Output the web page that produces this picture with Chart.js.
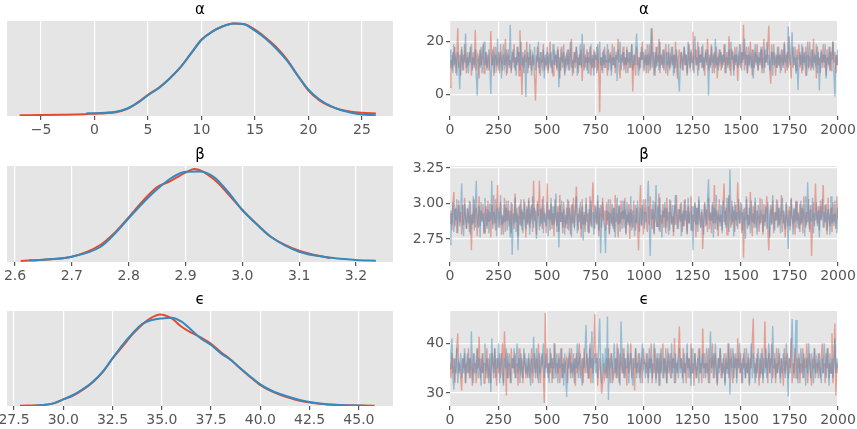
<!DOCTYPE html>
<html>
<head>
<meta charset="utf-8">
<script src="https://cdn.jsdelivr.net/npm/chart.js@4/dist/chart.umd.min.js"></script>
<style>
  body { margin: 0; background: #ffffff; }
  canvas { position: absolute; }
</style>
</head>
<body>
<canvas id="alphaKde" width="405" height="140" style="left:0;top:0"></canvas>
<canvas id="alphaTrace" width="452" height="140" style="left:405px;top:0"></canvas>
<canvas id="betaKde" width="405" height="150" style="left:0;top:140px"></canvas>
<canvas id="betaTrace" width="452" height="150" style="left:405px;top:140px"></canvas>
<canvas id="epsKde" width="405" height="139" style="left:0;top:290px"></canvas>
<canvas id="epsTrace" width="452" height="139" style="left:405px;top:290px"></canvas>
<script>
// posterior density, chain 0 (red) and chain 1 (blue)
const alphaKdeXRed = [-7, -5, -3, -1, 0, 1, 2, 3, 4, 5, 6, 7, 8, 9, 10, 11, 12, 13, 14, 15, 16, 17, 18, 19, 20, 21, 22, 23, 24, 25, 26.3];
const alphaKdeRed = [0.5, 0.7, 1, 1.5, 2, 2.5, 3.5, 6.5, 13, 21, 28, 37, 48, 62, 76, 84, 89.5, 92.3, 91.5, 86, 78, 68.5, 56, 40, 25, 15.5, 9.5, 6, 4, 3, 2.3];
const alphaKdeXBlue = [-0.8, 0, 1, 2, 3, 4, 5, 6, 7, 8, 9, 10, 11, 12, 13, 14, 15, 16, 17, 18, 19, 20, 21, 22, 23, 24, 25, 26.3];
const alphaKdeBlue = [2.3, 2.5, 3, 4, 7, 12.5, 20.5, 27.5, 37, 48, 62, 76, 84, 89.5, 92.3, 91.5, 85, 77, 67, 55, 40, 26, 16.5, 10, 5.7, 3, 1.3, 0.3];

const betaKdeXRed = [2.61, 2.65, 2.70, 2.75, 2.775, 2.80, 2.825, 2.85, 2.87, 2.90, 2.915, 2.95, 2.975, 3.00, 3.025, 3.05, 3.10, 3.155];
const betaKdeRed = [0, 1.3, 4.3, 16, 28, 43.7, 60, 74, 79, 88.3, 92, 81.7, 67, 51, 37, 24.3, 10.3, 2.7];
const betaKdeXBlue = [2.625, 2.65, 2.70, 2.75, 2.775, 2.80, 2.825, 2.85, 2.875, 2.90, 2.925, 2.95, 2.975, 3.00, 3.025, 3.05, 3.10, 3.15, 3.20, 3.235];
const betaKdeBlue = [0.7, 1.3, 4.3, 14, 27, 42.7, 58, 71.7, 83, 89.3, 89.5, 84, 69, 51, 37, 24.3, 9.3, 3.7, 1, 0.3];

const epsKdeXRed = [27.8, 29, 29.5, 30, 30.5, 31, 31.5, 32, 32.5, 33, 33.5, 34, 34.5, 34.9, 35.5, 36, 36.5, 37, 37.5, 38, 38.5, 39, 39.5, 40, 40.5, 41, 42, 43, 44, 45.8];
const epsKdeRed = [0, 0.7, 2.3, 6.3, 10, 16, 23.5, 33.5, 47.3, 59, 71, 81, 88.3, 91.3, 87.3, 79, 73, 68, 62, 53.5, 46, 37, 28.5, 20.5, 15, 11, 5, 2, 0.7, 0];
const epsKdeXBlue = [28.5, 29, 29.5, 30, 30.5, 31, 31.5, 32, 32.5, 33, 33.5, 34, 34.5, 35, 35.5, 36, 36.5, 37, 37.5, 38, 38.5, 39, 39.5, 40, 40.5, 41, 42, 42.5, 43, 44, 45.3];
const epsKdeBlue = [0, 0.7, 2.3, 6.3, 10.7, 16.7, 24, 34, 47.3, 60.7, 72, 81.7, 85.7, 87.3, 88, 84, 75.7, 67, 60.7, 52.3, 45.7, 37.3, 29, 21.3, 15.7, 11.7, 5.7, 3.7, 2.3, 0.7, 0];

// sampled traces, 400 values per chain spread over the 2000 draws
const alphaTraceRed = [
  2.6, 13, 9, 16, 11, 18, 8, 14, 25, 10, 15, 7, 17, 12, 9, 19, 13, 8, 16, 11,
  14, 18, 7, 12, 16, 10, 24.4, 9, 15, 13, 6, 17, 11, 14, 19, 8, 12, 16, 10, 15,
  9, 13, 24, 11, 17, 7, 14, 18, 10, 12, 16, 8, 19, 13, 9, 15, 11, 21, 7, 14,
  17, 10, 13, 8, 16, 12, 19, 9, 14, 11, 18, 7, 24.4, 13, -0.3, 16, 10, 15, 12, 20,
  8, 14, 11, 17, 9, 15, 13, 6, -2.4, 12, 18, 10, 14, 7, 16, 12, 19, 9, 13, 11,
  16, 8, 14, 20, 10, 13, 7, 17, 11, 15, 9, 18, 12, 6, 16, 14, 10, 19, 8, 13,
  15, 11, 17, 9, 13, 21, 7, 12, 16, 10, 18, 14, 8, 15, 11, 17, 5, 13, 19, 10,
  14, 9, 16, 12, 18, 7, 13, 11, 17, 10, 15, 8, 19, 12, -6.9, 14, 9, 16, 11, 18,
  10, 13, 7, 17, 12, 15, 9, 19, 11, 14, 8, 16, 13, 21, 10, 6, 15, 12, 18, 9,
  14, 11, 17, 8, 13, 16, 10, 19, 1, 12, 15, 7, 18, 11, 14, 9, 16, 13, 20, 10,
  12, 17, 8, 15, 11, 19, 9, 14, 25, 13, 7, 16, 10, 18, 12, 21, 8, 15, 11, 17,
  9, 14, 19, 12, 7, 16, 10, 13, 18, 11, 15, 8, 20, 12, 6, 14, 17, 10, 16, 13,
  9, 18, 11, 15, 7, 13, 19, 10, 16, 12, 23.7, 8, 14, 17, 11, 20, 9, 15, 12, 18,
  10, 14, 7, 17, 12, 21, 9, 15, 11, 19, 8, 13, 16, 10, 18, 6, 14, 12, 17, 9,
  15, 11, 19, 8, 13, 16, 10, 22, 12, 7, 17, 14, 9, 18, 11, 15, 5, 13, 19, 10,
  16, 12, 26.4, 9, 14, 18, 8, 15, 11, 20, 13, 7, 17, 10, 16, 12, 19, 9, 14, 11,
  17, 8, 13, 21, 10, 15, 12, 18, 26, 9, 4, 16, 11, 19, 13, 7, 15, 10, 18, 12,
  14, 9, 17, 11, 20, 8, 13, 16, 10, 22, 12, 6, 15, 18, 11, 14, 9, 17, 13, 19,
  10, 15, 8, 18, 12, 16, 7, 14, 20, 11, 13, 9, 17, 10, 21, 12, 15, 6, 18, 11,
  14, 8, 16, 12, 19, 10, 15, 7, 17, 13, 11, 18, 9, 14, 20, 12, 16, 8, 15, 11
];
const alphaTraceBlue = [
  17, 10, 15, 8, 19, 12, 14, 7, 16, 11, 1.9, 13, 18, 9, 15, 12, 23, 10, 14, 8,
  16, 12, 19, 9, 14, 11, 17, 7, -0.5, 13, 15, 10, 18, 8, 14, 20, 11, 16, 9, 13,
  17, 10, 0.1, 14, 12, 18, 8, 15, 11, 21, 9, 13, 16, 6, 14, 19, 10, 12, 17, 8,
  15, 11, 26.4, 9, 13, 17, 10, 14, 7, 18, 12, 16, 9, 20, 11, 14, 8, 17, -1.1, 13,
  16, 10, 19, 12, 7, 15, 11, 18, 9, 14, 13, 20, 8, 16, 12, 10, 17, 6, 15, 11,
  18, 9, 14, 12, 16, 8, 19, 11, 13, 15, 10, 17, 2.6, 14, 9, 18, 12, 16, 7, 13,
  11, 17, 9, 15, 20, 10, 13, 8, 16, 12, 18, 7, 14, 11, 19, 10, 22.9, 13, 9, 15,
  12, 17, 8, 14, 11, 19, 10, 15, 7, 16, 13, 18, 9, 12, 20, 11, 14, 8, 17, 10,
  15, 12, 19, 9, 13, 16, 7, 14, 11, 18, 10, 15, 5, 17, 12, 20, 9, 13, 16, 11,
  14, 8, 18, 12, 16, 10, 13, 19, 9, 15, 11, 17, 23, 12, 7, 14, 10, 18, 13, 16,
  9, 15, 11, 19, 8, 14, 12, 25, 10, 16, 13, 7, 18, 11, 15, 9, 20, 12, 14, 10,
  17, 13, 8, 16, 11, 19, 9, 14, 12, 18, 7, 15, 10, 17, 13, 6, 1, 12, 16, 9,
  14, 18, 11, 15, 8, 20, 12, 10, 17, 13, 9, 16, 22, 11, 14, 7, 18, 12, 15, 10,
  19, 9, 13, 16, 11, 17, -0.5, 14, 10, 18, 12, 15, 8, 21, 11, 14, 9, 17, 13, 16,
  10, 15, 12, 19, 8, 14, 11, 17, 9, 20, 13, 16, 7, 15, 12, 18, 10, 14, 11, 19,
  9, 16, 13, 21, 11, 15, 8, 18, 12, 14, 10, 17, 6, 13, 19, 11, 15, 9, 16, 12,
  18, 10, 14, 8, 17, 12, 20, 11, 15, 9, 13, 19, 7, 16, 12, 14, 10, 18, 11, 15,
  8, 17, 13, 10, 19, 12, 15, 9, 25.7, 14, 11, 16, 23.5, 10, 13, 18, 8, 15, 1.6, 12,
  16, 11, 19, 9, 14, 12, 18, 7, 15, 10, 20, 13, 11, 17, 9, 14, 12, 19, 8, 16,
  1.4, 13, 17, 10, 15, 12, 19, 6, 14, 11, 18, 9, 16, 13, 20, 8, -0.9, 15, 11, 17
];
const betaTraceRed = [
  2.86, 2.95, 2.81, 3.00, 3.08, 2.84, 2.97, 2.79, 2.92, 3.02, 2.87, 2.94, 2.78, 2.99, 2.85, 3.04, 2.89, 2.82, 2.96, 2.91,
  2.80, 3.01, 2.67, 2.93, 2.86, 3.03, 2.83, 2.97, 2.77, 2.90, 3.05, 2.84, 2.95, 2.88, 3.00, 2.79, 2.92, 2.98, 2.82, 3.02,
  2.87, 2.94, 2.76, 2.99, 2.85, 3.06, 2.89, 2.81, 2.96, 3.13, 2.83, 2.93, 3.01, 2.78, 2.91, 2.86, 3.04, 2.80, 2.97, 2.88,
  3.02, 2.84, 2.95, 2.79, 3.00, 2.90, 2.82, 3.07, 2.87, 2.93, 2.77, 2.98, 2.85, 3.03, 2.81, 2.94, 2.89, 3.01, 2.76, 2.96,
  2.86, 3.04, 2.83, 2.92, 2.99, 2.80, 3.16, 2.88, 2.95, 2.78, 3.02, 2.91, 3.16, 2.84, 2.97, 2.82, 3.05, 2.87, 2.93, 2.79,
  3.14, 2.89, 2.96, 2.81, 3.00, 2.85, 2.93, 2.77, 3.03, 2.90, 2.84, 2.98, 2.80, 3.06, 2.87, 2.94, 2.79, 3.01, 2.88, 2.83,
  2.97, 2.82, 3.02, 2.91, 2.78, 2.99, 2.86, 3.04, 2.83, 2.95, 3.12, 2.88, 2.81, 2.97, 2.92, 2.76, 3.03, 2.85, 2.94, 2.80,
  3.00, 2.87, 2.93, 2.79, 3.05, 2.84, 2.96, 3.15, 2.89, 2.82, 2.98, 2.86, 3.02, 2.77, 2.92, 2.99, 2.83, 3.04, 2.88, 2.95,
  2.81, 3.01, 2.85, 2.94, 2.78, 3.03, 2.90, 2.84, 2.97, 2.80, 3.06, 2.87, 2.93, 2.76, 2.99, 2.86, 3.02, 2.82, 2.95, 2.89,
  3.04, 2.79, 2.92, 2.85, 3.00, 2.75, 2.96, 2.88, 2.83, 3.02, 2.90, 2.81, 2.97, 2.86, 2.67, 2.94, 3.13, 2.84, 2.99, 2.78,
  2.93, 3.03, 2.87, 2.80, 2.98, 2.85, 3.05, 2.91, 2.82, 2.96, 2.78, 3.01, 2.89, 2.84, 2.95, 3.07, 2.80, 2.92, 2.86, 3.00,
  2.83, 2.97, 2.79, 3.04, 2.88, 2.94, 2.81, 3.02, 2.86, 2.91, 2.77, 2.99, 2.85, 3.06, 2.90, 2.82, 2.96, 2.87, 3.01, 2.80,
  2.95, 2.84, 3.03, 2.89, 2.78, 2.98, 2.86, 2.93, 3.05, 2.81, 2.92, 2.87, 3.00, 2.76, 2.97, 2.85, 3.02, 2.90, 2.83, 2.94,
  2.68, 2.91, 3.01, 2.84, 2.96, 2.80, 3.04, 2.88, 2.93, 2.79, 2.99, 2.86, 3.13, 2.82, 2.95, 2.90, 2.77, 3.03, 2.87, 2.92,
  2.81, 3.00, 3.14, 2.85, 2.97, 2.78, 2.93, 3.06, 2.89, 2.83, 3.02, 2.87, 2.95, 2.80, 2.99, 2.84, 3.15, 2.91, 2.86, 3.01,
  2.79, 2.94, 2.62, 2.97, 2.88, 3.03, 2.82, 2.92, 2.85, 3.08, 2.90, 2.77, 2.98, 2.86, 3.01, 2.83, 2.95, 2.89, 2.80, 3.04,
  2.87, 2.93, 2.78, 3.00, 2.84, 2.96, 3.05, 2.81, 2.67, 2.91, 2.99, 2.86, 3.02, 2.79, 2.94, 2.88, 3.03, 2.83, 2.97, 2.85,
  2.92, 3.06, 2.80, 2.95, 2.87, 2.76, 3.01, 2.89, 2.84, 2.98, 2.81, 3.04, 2.90, 2.86, 2.96, 2.78, 3.02, 2.88, 2.93, 2.82,
  3.00, 2.85, 2.97, 2.79, 3.05, 2.91, 2.83, 2.94, 2.87, 3.03, 2.80, 2.96, 2.63, 2.89, 3.01, 2.84, 3.14, 2.92, 2.86, 2.98,
  2.81, 3.02, 2.88, 2.95, 3.13, 2.83, 2.99, 2.86, 2.78, 3.04, 2.90, 2.84, 2.97, 2.80, 3.01, 2.87, 2.93, 2.82, 3.05, 2.89
];
const betaTraceBlue = [
  2.71, 2.93, 2.85, 3.01, 2.80, 2.96, 2.88, 3.03, 2.79, 2.99, 2.84, 2.94, 3.14, 2.87, 2.77, 3.00, 2.90, 2.82, 2.97, 2.86,
  3.02, 2.78, 2.92, 2.85, 3.05, 2.81, 2.95, 3.16, 2.89, 2.83, 2.98, 2.76, 3.01, 2.87, 2.93, 2.80, 3.04, 2.91, 2.84, 2.96,
  2.79, 3.00, 2.88, 3.16, 2.82, 2.94, 2.86, 3.03, 2.77, 2.97, 2.90, 2.83, 3.06, 2.85, 2.92, 2.78, 2.99, 2.87, 3.02, 2.81,
  2.95, 2.89, 2.76, 3.01, 2.64, 2.93, 2.86, 3.04, 2.80, 2.97, 2.67, 2.91, 3.00, 2.84, 2.96, 2.79, 3.03, 2.88, 2.82, 2.98,
  2.85, 3.02, 2.78, 2.94, 2.90, 3.05, 2.83, 2.97, 2.87, 2.75, 3.00, 2.92, 2.81, 2.96, 2.86, 3.03, 2.79, 2.93, 2.89, 2.84,
  3.01, 2.77, 2.95, 2.88, 3.04, 2.82, 2.98, 2.85, 2.91, 3.07, 2.80, 2.94, 2.69, 2.99, 2.87, 3.02, 2.83, 2.96, 2.78, 2.92,
  2.86, 3.03, 2.81, 2.97, 2.90, 2.76, 3.00, 2.88, 2.84, 2.95, 3.05, 2.79, 2.93, 2.87, 3.01, 2.82, 2.98, 2.74, 2.92, 2.85,
  3.04, 2.89, 2.80, 2.96, 2.86, 3.02, 2.83, 2.94, 2.78, 2.99, 2.91, 2.85, 3.06, 2.81, 2.97, 2.65, 2.90, 3.01, 2.87, 2.84,
  2.65, 2.95, 2.88, 3.03, 2.79, 2.93, 2.86, 3.00, 2.82, 2.97, 2.76, 2.91, 3.04, 2.85, 2.98, 2.80, 2.94, 2.89, 3.02, 2.83,
  2.96, 2.78, 3.01, 2.87, 2.92, 2.84, 3.05, 2.81, 2.95, 2.88, 2.77, 2.99, 2.86, 3.02, 2.90, 2.80, 2.97, 2.85, 2.93, 3.03,
  2.82, 2.94, 2.87, 3.00, 3.16, 2.85, 2.63, 2.96, 2.89, 3.02, 2.79, 2.93, 3.13, 2.84, 2.98, 2.81, 3.04, 2.88, 2.76, 2.95,
  2.90, 3.01, 2.83, 2.97, 2.86, 2.78, 3.03, 2.92, 2.85, 2.99, 2.80, 2.94, 3.06, 2.87, 2.82, 2.96, 2.89, 3.00, 2.77, 2.93,
  2.84, 3.02, 2.88, 2.95, 2.79, 3.04, 2.86, 2.91, 2.81, 2.98, 2.67, 2.93, 3.01, 2.85, 2.97, 2.80, 3.05, 2.89, 2.83, 2.96,
  2.87, 2.78, 3.00, 2.92, 2.85, 3.03, 3.17, 2.82, 2.94, 2.88, 3.01, 2.76, 2.97, 2.86, 3.06, 2.81, 2.93, 2.90, 2.84, 2.99,
  2.79, 3.02, 2.87, 2.95, 2.83, 3.04, 2.89, 2.80, 3.24, 2.91, 2.85, 2.98, 2.77, 3.01, 2.88, 2.94, 2.82, 3.03, 2.86, 2.92,
  3.00, 2.81, 2.96, 2.88, 2.75, 3.05, 2.90, 2.84, 2.97, 2.79, 3.02, 2.87, 2.93, 2.83, 3.04, 2.86, 2.78, 2.99, 2.91, 2.85,
  2.95, 3.03, 2.80, 2.92, 2.87, 2.98, 2.82, 3.01, 2.89, 2.76, 2.96, 2.85, 3.06, 2.90, 2.81, 2.94, 2.88, 3.02, 2.84, 2.97,
  2.79, 2.93, 3.04, 2.86, 2.91, 2.82, 3.00, 2.88, 2.68, 2.95, 2.84, 3.03, 2.90, 2.78, 2.97, 2.87, 3.01, 2.83, 2.94, 2.89,
  2.80, 3.02, 2.86, 2.96, 2.92, 2.77, 3.05, 2.85, 3.15, 2.90, 2.82, 2.99, 2.87, 3.04, 2.79, 2.93, 2.88, 3.01, 2.84, 2.95,
  2.76, 2.98, 2.89, 3.03, 2.83, 2.94, 2.87, 3.00, 2.81, 2.96, 2.90, 2.78, 3.05, 2.86, 2.92, 2.84, 3.02, 2.88, 2.79, 2.97
];
const epsTraceRed = [
  36, 33, 38, 34, 37, 32, 35, 39, 42, 34, 36, 33, 30.5, 37, 35, 38, 32, 36, 34, 39,
  33, 37, 35, 31.5, 38, 34, 36, 32, 39, 35, 41.3, 33, 37, 34, 38, 32, 36, 35, 39, 33,
  37, 34, 32, 38, 36, 33, 39, 35, 31.5, 37, 34, 38, 33, 36, 40, 32, 42.4, 37, 29.5, 38,
  33, 36, 32, 39, 35, 37, 34, 38, 33, 36, 31.5, 39, 35, 34, 37, 32, 36, 38, 33, 35,
  34, 37, 33, 36, 39, 32, 35, 38, 34, 37, 33, 40, 35, 32, 36, 38, 34, 28, 46.1, 35,
  39, 33, 36, 34, 38, 32, 37, 35, 40, 33, 36, 34, 38, 32, 35, 39, 33, 37, 34, 36,
  37, 32, 36, 38, 34, 39, 33, 35, 37, 31.5, 38, 34, 36, 40, 33, 35, 37, 32, 39, 34,
  36, 38, 33, 35, 40, 32, 37, 34, 39, 45.9, 36, 38, 31.5, 35, 37, 34, 29.9, 32, 36, 33,
  34, 37, 33, 39, 35, 32, 38, 36, 33, 34, 37, 33, 40, 35, 32, 38, 36, 34, 39, 33,
  37, 35, 31.5, 38, 34, 36, 40, 33, 37, 35, 30.5, 39, 34, 36, 38, 33, 35, 37, 32, 39,
  36, 36, 34, 38, 33, 37, 35, 40, 32, 36, 34, 39, 33, 37, 35, 31.5, 38, 34, 36, 40,
  33, 37, 35, 32, 39, 34, 36, 38, 33, 37, 35, 41, 32, 36, 34, 38, 43.4, 35, 37, 33,
  39, 34, 36, 32, 38, 35, 37, 33, 40, 34, 36, 31.5, 38, 35, 33, 37, 39, 34, 36, 32,
  43, 35, 38, 33, 36, 34, 39, 32, 37, 35, 40, 33, 36, 38, 34, 31.5, 37, 35, 39, 33,
  36, 34, 38, 32, 37, 35, 40, 33, 36, 39, 34, 32, 38, 35, 37, 33, 41, 36, 34, 38,
  32, 37, 35, 39, 33, 36, 34, 38, 32, 37, 35, 40, 45, 34, 36, 33, 38, 35, 31.5, 37,
  34, 39, 33, 36, 44.4, 35, 37, 32, 38, 34, 36, 40, 33, 35, 37, 32, 39, 34, 36, 38,
  33, 37, 35, 31.5, 39, 34, 36, 38, 33, 37, 35, 41, 32, 36, 34, 39, 33, 37, 35, 38,
  32, 36, 34, 39, 33, 37, 35, 40, 32, 36, 38, 34, 31.5, 37, 35, 39, 33, 36, 34, 38,
  35, 33, 37, 40, 34, 36, 32, 38, 35, 39, 33, 36, 34, 42, 32, 37, 44, 29.5, 36, 34
];
const epsTraceBlue = [
  35, 38, 41, 33, 30.7, 37, 34, 39, 32, 36, 35, 38, 33, 37, 34, 39, 32, 36, 38, 34,
  37, 33, 42.4, 35, 32, 38, 36, 34, 39, 33, 37, 35, 31.5, 38, 34, 36, 40, 33, 37, 35,
  32, 38, 30.2, 41, 36, 34, 39, 33, 37, 35, 40, 32, 36, 38, 34, 31.5, 37, 35, 39, 33,
  36, 38, 34, 32, 37, 35, 39, 33, 36, 40, 34, 37, 32, 38, 35, 33, 39, 36, 34, 37,
  33, 38, 35, 31.5, 37, 34, 41.3, 36, 33, 39, 35, 32, 38, 34, 37, 36, 40, 33, 35, 38,
  34, 36, 32, 39, 35, 37, 33, 40, 34, 36, 38, 32, 37, 35, 39, 33, 36, 31.5, 38, 34,
  29.2, 37, 35, 39, 33, 36, 34, 38, 32, 37, 35, 40, 33, 36, 38, 34, 31.5, 37, 35, 39,
  43.7, 34, 37, 33, 39, 35, 42.4, 32, 36, 38, 34, 37, 33, 40, 45, 35, 32, 38, 36, 34,
  39, 33, 45.4, 28.6, 37, 35, 38, 32, 36, 40, 34, 37, 33, 39, 35, 31.5, 44.4, 36, 34, 38,
  33, 37, 35, 40, 32, 36, 38, 34, 31.5, 37, 35, 39, 33, 36, 34, 38, 32, 37, 40, 35,
  36, 33, 38, 35, 32, 39, 34, 37, 33, 36, 40, 35, 32, 38, 34, 37, 31.5, 39, 35, 33,
  37, 34, 39, 32, 36, 38, 35, 33, 40, 34, 37, 32, 38, 35, 36, 33, 39, 34, 37, 35,
  32, 38, 34, 36, 40, 33, 37, 35, 31.5, 39, 34, 36, 38, 33, 35, 37, 32, 39, 34, 36,
  38, 33, 36, 34, 39, 35, 32, 37, 42.4, 34, 36, 38, 33, 40, 35, 32, 37, 34, 39, 36,
  33, 37, 35, 31.5, 38, 34, 36, 40, 29.7, 37, 35, 39, 33, 36, 38, 32, 37, 35, 40, 34,
  36, 32, 38, 35, 33, 39, 34, 37, 31.5, 36, 40, 33, 38, 35, 32, 37, 34, 39, 36, 33,
  38, 35, 32, 37, 34, 39, 33, 36, 40, 34, 37, 32, 43.5, 35, 38, 33, 36, 34, 39, 35,
  32, 37, 34, 38, 36, 33, 40, 35, 29.3, 37, 34, 39, 44.9, 36, 33, 38, 44.7, 35, 32, 37,
  34, 39, 36, 33, 38, 35, 31.5, 37, 34, 40, 36, 33, 38, 35, 32, 39, 34, 37, 36, 33,
  38, 35, 32, 37, 34, 40, 36, 33, 39, 35, 31.5, 38, 34, 37, 33, 36, 41, 34, 37, 35
];
const draws = 2000;

const RED = "#E24A33";
const BLUE = "#348ABD";
const FONT = "'DejaVu Sans', sans-serif";

Chart.defaults.font.family = FONT;
Chart.defaults.font.size = 14;
Chart.defaults.color = "#555555";

// grey panel + title above it
const ggplotPanel = {
  id: "ggplotPanel",
  beforeDraw(chart, args, opts) {
    const a = chart.chartArea;
    const ctx = chart.ctx;
    ctx.save();
    ctx.fillStyle = "#E5E5E5";
    ctx.fillRect(a.left, a.top, a.right - a.left, a.bottom - a.top);
    ctx.restore();
  },
  afterDraw(chart, args, opts) {
    const a = chart.chartArea;
    const ctx = chart.ctx;
    ctx.save();
    ctx.fillStyle = "#000000";
    ctx.font = "15px " + FONT;
    ctx.textAlign = "center";
    ctx.textBaseline = "middle";
    ctx.fillText(opts.text, (a.left + a.right) / 2, a.top - 11);
    ctx.restore();
  },
};

function pairs(xs, ys) {
  return xs.map((x, i) => ({ x: x, y: ys[i] }));
}

function traceData(vals) {
  return vals.map((v, i) => ({ x: (i * (draws - 1)) / (vals.length - 1), y: v }));
}

function xAxis(min, max, step, digits, axisHeight) {
  return {
    type: "linear",
    min: min,
    max: max,
    border: { display: false },
    grid: { color: "#FFFFFF", lineWidth: 1.2, tickColor: "#555555", tickLength: 4 },
    ticks: {
      stepSize: step,
      includeBounds: false,
      maxRotation: 0,
      padding: 2,
      callback: (v) => Number(v).toFixed(digits).replace("-", "\u2212"),
    },
    afterFit: (s) => {
      s.height = axisHeight;
      s.paddingLeft = 0;
      s.paddingRight = 0;
    },
  };
}

function kdeChart(id, title, red, blue, xr, yr, pad, axisHeight) {
  new Chart(document.getElementById(id), {
    type: "line",
    data: {
      datasets: [
        { data: blue, borderColor: BLUE, borderWidth: 2, pointRadius: 0, cubicInterpolationMode: "monotone" },
        { data: red, borderColor: RED, borderWidth: 2, pointRadius: 0, cubicInterpolationMode: "monotone" },
      ],
    },
    options: {
      responsive: false,
      animation: false,
      layout: { padding: { left: 7, right: 12, top: pad, bottom: 0 } },
      scales: {
        x: xAxis(xr[0], xr[1], xr[2], xr[3], axisHeight),
        y: { display: false, min: yr[0], max: yr[1] },
      },
      plugins: { legend: { display: false }, tooltip: { enabled: false }, ggplotPanel: { text: title } },
    },
    plugins: [ggplotPanel],
  });
}

function traceChart(id, title, red, blue, yr, pad, axisHeight) {
  new Chart(document.getElementById(id), {
    type: "line",
    data: {
      datasets: [
        { data: traceData(blue), borderColor: "rgba(52,138,189,0.45)", borderWidth: 1.4, pointRadius: 0 },
        { data: traceData(red), borderColor: "rgba(226,74,51,0.45)", borderWidth: 1.4, pointRadius: 0 },
      ],
    },
    options: {
      responsive: false,
      animation: false,
      layout: { padding: { left: 0, right: 19, top: pad, bottom: 0 } },
      scales: {
        x: xAxis(0, draws, 250, 0, axisHeight),
        y: {
          min: yr[0],
          max: yr[1],
          border: { display: false },
          grid: { color: "#FFFFFF", lineWidth: 1.2, tickColor: "#555555", tickLength: 4 },
          ticks: {
            stepSize: yr[2],
            includeBounds: false,
            padding: 2,
            callback: (v) => Number(v).toFixed(yr[3]).replace("-", "\u2212"),
          },
          afterFit: (s) => {
            s.width = 45;
          },
        },
      },
      plugins: { legend: { display: false }, tooltip: { enabled: false }, ggplotPanel: { text: title } },
    },
    plugins: [ggplotPanel],
  });
}

//alpha
kdeChart("alphaKde", "α", pairs(alphaKdeXRed, alphaKdeRed), pairs(alphaKdeXBlue, alphaKdeBlue),
  [-8.18, 27.9, 5, 0], [-0.3, 94.7], 21, 24);
traceChart("alphaTrace", "α", alphaTraceRed, alphaTraceBlue, [-8.3, 27.8, 20, 0], 21, 24);

//beta
kdeChart("betaKde", "β", pairs(betaKdeXRed, betaKdeRed), pairs(betaKdeXBlue, betaKdeBlue),
  [2.5859, 3.2651, 0.1, 1], [-1, 95], 26, 28);
traceChart("betaTrace", "β", betaTraceRed, betaTraceBlue, [2.588, 3.264, 0.25, 2], 26, 28);

//epsilon
kdeChart("epsKde", "ϵ", pairs(epsKdeXRed, epsKdeRed), pairs(epsKdeXBlue, epsKdeBlue),
  [27.145, 46.73, 2.5, 1], [-0.3, 94.7], 21, 23);
traceChart("epsTrace", "ϵ", epsTraceRed, epsTraceBlue, [27.4, 46.5, 10, 0], 21, 23);
</script>
</body>
</html>
